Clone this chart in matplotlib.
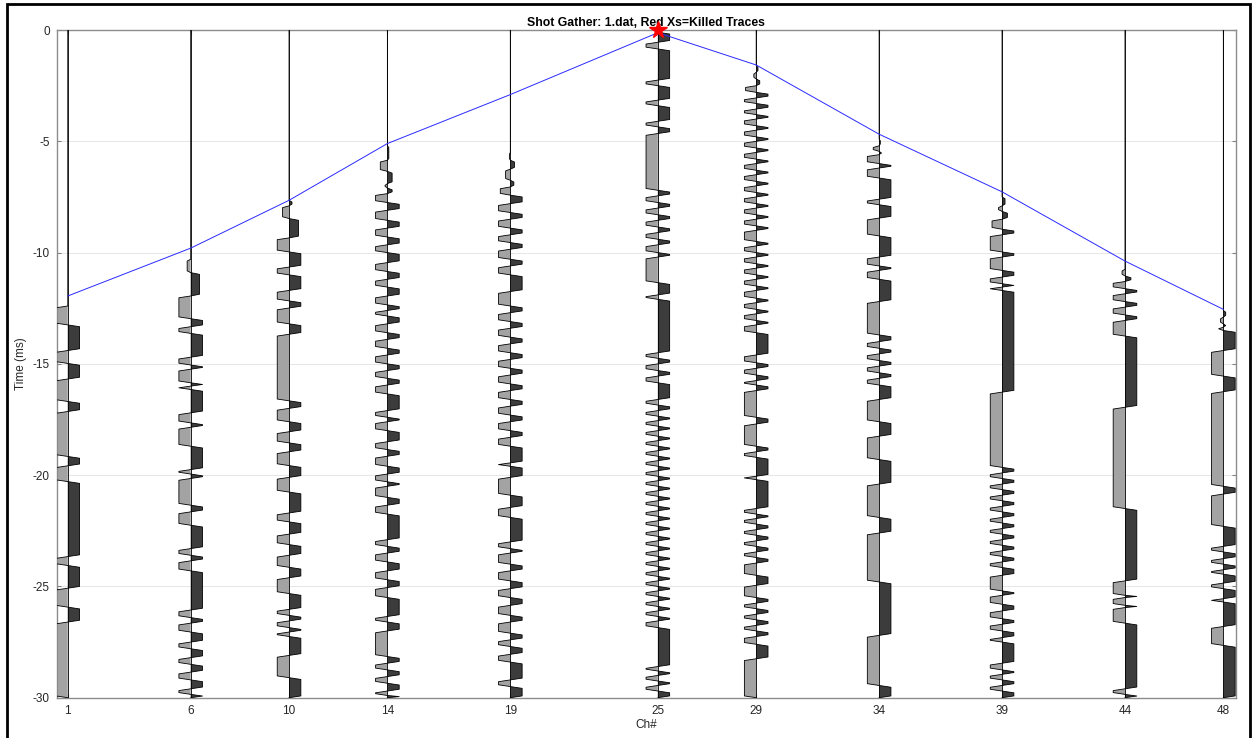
import numpy as np
import matplotlib
matplotlib.use("Agg")
import matplotlib.pyplot as plt
from matplotlib.patches import Rectangle

plt.rcParams['font.family'] = ['Liberation Sans', 'DejaVu Sans']
plt.rcParams['axes.unicode_minus'] = False

# channel numbers of the displayed traces and first-break picks (ms)
channels = [1, 6, 10, 14, 19, 25, 29, 34, 39, 44, 48]
first_break = [11.95, 9.8, 7.65, 5.1, 2.9, 0.12, 1.57, 4.68, 7.27, 10.38, 12.55]

# shot marker
shot_ch = 25
shot_t = 0.0

# zero crossings of each trace (ms), sign of its first lobe (+1 right/dark, -1 left/gray)
# and the relative amplitude of the weak lobes right after the first break
xc_01 = [12.4, 13.25, 14.4, 14.98, 15.68, 16.69, 17.14, 19.16, 19.58, 20.29, 23.66, 24.06,
         25.08, 25.93, 26.6, 30.0]
weak_01 = []

xc_06 = [10.3, 10.9, 11.95, 12.97, 13.33, 13.63, 14.7, 15.05, 15.24, 15.85, 16.0, 16.15,
         17.2, 17.65, 17.85, 18.7, 19.75, 19.95, 20.15, 21.35, 21.65, 22.25, 23.3, 23.6,
         23.85, 24.3, 26.06, 26.4, 26.65, 27.05, 27.5, 27.8, 28.2, 28.5, 28.85, 29.2, 29.6,
         29.85, 30.0]
weak_06 = [0.3, 0.75]

xc_10 = [7.65, 7.9, 8.47, 9.34, 9.97, 10.65, 11.0, 11.7, 12.17, 12.49, 13.2, 13.67, 16.66,
         17.0, 17.6, 18.05, 18.55, 18.95, 19.57, 20.1, 20.76, 21.7, 22.1, 22.65, 23.12, 23.6,
         24.14, 24.61, 25.32, 26.03, 26.3, 26.55, 26.85, 27.05, 27.25, 28.1, 29.1, 30.0]
weak_10 = [0.25, 0.55, 0.8]

xc_14 = [5.2, 5.85, 6.35, 6.9, 7.1, 7.35, 7.75, 8.1, 8.55, 8.9, 9.3, 9.65, 10.0, 10.45,
         10.85, 11.2, 11.55, 11.95, 12.35, 12.6, 12.85, 13.2, 13.6, 13.9, 14.3, 14.6, 15.0,
         15.3, 15.65, 15.95, 16.35, 17.1, 17.4, 17.6, 18.0, 18.5, 18.85, 19.15, 19.6, 19.95,
         20.3, 20.5, 21.0, 21.35, 21.75, 22.9, 23.2, 23.5, 23.9, 24.3, 24.7, 25.05, 25.5,
         26.35, 26.6, 27.0, 28.15, 28.45, 28.75, 29.05, 29.35, 29.7, 29.9, 30.0]
weak_14 = [0.12, 0.6, 0.4, 0.2, 0.4]

xc_19 = [5.5, 5.85, 6.25, 6.75, 7.05, 7.42, 7.8, 8.2, 8.5, 8.9, 9.2, 9.55, 9.85, 10.3, 10.6,
         11.0, 11.75, 12.4, 12.7, 13.1, 13.4, 13.8, 14.1, 14.5, 14.8, 15.2, 15.5, 15.9, 16.2,
         16.6, 16.9, 17.3, 17.6, 18.0, 18.3, 18.7, 19.45, 19.6, 20.1, 20.9, 21.45, 21.9, 23.0,
         23.3, 23.5, 24.0, 24.3, 24.75, 25.1, 25.5, 25.85, 26.3, 26.6, 27.1, 27.4, 27.7,
         28.05, 28.4, 29.2, 29.5, 30.0]
weak_19 = [0.08, 0.35, 0.4, 0.3, 0.85]

xc_25 = [0.1, 0.55, 0.85, 2.25, 2.5, 3.15, 3.4, 4.1, 4.35, 4.65, 7.2, 7.45, 7.75, 8.0, 8.3,
         8.55, 8.85, 9.1, 9.4, 9.65, 10.0, 10.2, 11.35, 11.9, 12.1, 14.5, 14.75, 15.0, 15.3,
         15.55, 15.85, 16.6, 16.85, 17.1, 17.35, 17.55, 17.8, 18.0, 18.25, 18.45, 18.7, 18.9,
         19.15, 19.35, 19.6, 19.8, 20.05, 20.25, 20.5, 20.7, 20.95, 21.15, 21.4, 21.6, 21.85,
         22.05, 22.3, 22.5, 22.75, 22.95, 23.2, 23.4, 23.65, 23.85, 24.1, 24.3, 24.55, 24.75,
         25.0, 25.2, 25.45, 25.65, 25.9, 26.1, 26.35, 26.55, 26.85, 28.6, 28.8, 29.0, 29.25,
         29.45, 29.7, 30.0]
weak_25 = []

xc_29 = [1.6, 1.9, 2.2, 2.5, 2.8, 3.05, 3.3, 3.55, 3.8, 4.0, 4.3, 4.5, 4.8, 5.0, 5.3, 5.5,
         5.8, 6.0, 6.3, 6.5, 6.8, 7.0, 7.3, 7.5, 7.8, 8.0, 8.3, 8.5, 8.8, 9.0, 9.5, 9.7, 10.0,
         10.2, 10.5, 10.7, 11.0, 11.2, 11.5, 11.7, 12.05, 12.25, 12.55, 12.75, 13.05, 13.25,
         13.6, 14.6, 14.95, 15.2, 15.5, 15.75, 15.95, 16.2, 17.4, 17.7, 18.7, 18.95, 19.2,
         20.05, 20.2, 21.5, 21.75, 21.95, 22.2, 22.45, 22.7, 22.95, 23.2, 23.45, 23.7, 23.95,
         24.5, 24.95, 25.5, 25.75, 26.0, 26.25, 26.5, 26.75, 27.0, 27.25, 27.6, 28.25, 30.0]
weak_29 = [0.15, 0.2, 0.3, 0.9]

xc_34 = [4.9, 5.2, 5.45, 5.6, 6.0, 6.2, 6.65, 7.6, 7.85, 8.45, 9.25, 10.2, 10.6, 10.8, 11.2,
         12.2, 13.7, 14.0, 14.3, 14.55, 14.85, 15.1, 15.4, 15.65, 15.95, 16.6, 17.6, 18.25,
         19.3, 20.4, 21.9, 22.6, 24.8, 27.2, 29.45, 30.0]
weak_34 = [0.1, 0.5, 0.2]

xc_39 = [7.5, 7.9, 8.15, 8.5, 8.95, 9.2, 9.97, 10.2, 10.8, 11.1, 11.4, 11.55, 11.7, 16.27,
         19.65, 19.9, 20.15, 20.4, 20.65, 20.9, 21.15, 21.4, 21.65, 21.9, 22.15, 22.4, 22.65,
         22.9, 23.15, 23.4, 23.65, 23.9, 24.15, 24.5, 25.2, 25.4, 25.8, 26.1, 26.45, 26.7,
         27.0, 27.3, 27.5, 28.45, 28.75, 28.95, 29.2, 29.45, 29.7, 30.0]
weak_39 = [0.25, 0.3, 0.45, 0.85]

xc_44 = [10.75, 11.05, 11.3, 11.62, 11.85, 12.2, 12.45, 12.8, 13.05, 13.75, 16.95, 21.5,
         24.75, 25.4, 25.5, 25.85, 25.95, 26.65, 29.6, 29.85, 30.0]
weak_44 = [0.25, 0.5]

xc_48 = [12.6, 12.9, 13.2, 13.35, 13.5, 14.4, 15.55, 16.25, 20.5, 20.85, 22.3, 23.2, 23.45,
         23.75, 24.0, 24.25, 24.45, 24.85, 25.1, 25.55, 25.7, 26.8, 27.65, 30.0]
weak_48 = [0.2, 0.25, 0.2, 0.4]

first_sign = [-1, -1, 1, 1, -1, 1, 1, 1, 1, -1, 1]

crossings = [xc_01, xc_06, xc_10, xc_14, xc_19, xc_25, xc_29, xc_34, xc_39, xc_44, xc_48]
weak = [weak_01, weak_06, weak_10, weak_14, weak_19, weak_25, weak_29, weak_34, weak_39,
        weak_44, weak_48]

clip = 0.48     # clipped trace excursion, in channels
ramp = 0.08     # rise time to the clip level, ms


def wiggle(xc, wk, sign0):
    t = [0.0]
    a = [0.0]
    for i in range(len(xc) - 1):
        t0, t1 = xc[i], xc[i + 1]
        amp = sign0 * (-1) ** i * (wk[i] if i < len(wk) else 1.0)
        if t1 - t0 > 2 * ramp:
            t += [t0, t0 + ramp, t1 - ramp]
            a += [0.0, amp, amp]
        else:
            t += [t0, 0.5 * (t0 + t1)]
            a += [0.0, amp]
    t.append(xc[-1])
    a.append(0.0)
    return np.array(t), np.array(a)


fig = plt.figure(figsize=(12.57, 7.38), dpi=100)
ax = fig.add_axes([0.0453, 0.0546, 0.9379, 0.9047])

for ch, xc, wk, s in zip(channels, crossings, weak, first_sign):
    t, a = wiggle(xc, wk, s)
    x = ch + clip * a
    y = -t
    ax.fill_betweenx(y, ch, x, where=a >= 0, color='#3c3c3c', lw=0, zorder=2)
    ax.fill_betweenx(y, ch, x, where=a <= 0, color='#a3a3a3', lw=0, zorder=2)
    ax.plot(x, y, color='black', lw=0.6, zorder=3)
    ax.plot([ch, ch], [0, -30], color='black', lw=0.6, zorder=3)

# first-break picks
ax.plot(channels, [-v for v in first_break], color='#2a2aff', lw=0.7, zorder=4)
ax.plot(shot_ch, -shot_t, marker='*', color='red', markersize=13, clip_on=False, zorder=5)

ax.set_xlim(0.56, 48.51)
ax.set_ylim(-30, 0)
ax.set_xticks(channels)
ax.set_xticklabels([str(c) for c in channels])
ax.set_yticks(range(-30, 1, 5))
ax.grid(True, color='#e6e6e6', lw=0.7)
ax.set_axisbelow(True)
ax.tick_params(direction='in', length=3, color='#808080', labelsize=8.5,
               labelcolor='#262626', pad=5, top=True, right=True)
for sp in ax.spines.values():
    sp.set_color('#8c8c8c')
    sp.set_linewidth(1.0)

ax.set_title('Shot Gather: 1.dat, Red Xs=Killed Traces', fontsize=8.8,
             fontweight='bold', pad=3)
ax.set_xlabel('Ch#', fontsize=8.5, labelpad=2, color='#262626')
ax.set_ylabel('Time (ms)', fontsize=8.5, labelpad=4, color='#262626')

# outer frame
fig.patches.append(Rectangle((7 / 1257, -0.05), 1243 / 1257, 1.05 - 4 / 738,
                             transform=fig.transFigure, fill=False,
                             edgecolor='black', lw=2))

fig.savefig('out.png', dpi=100)
